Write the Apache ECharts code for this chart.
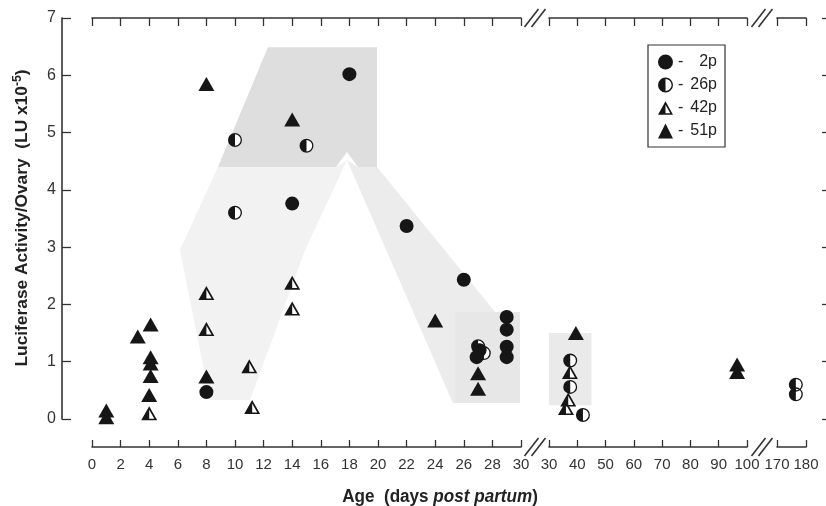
<!DOCTYPE html>
<html><head><meta charset="utf-8">
<script src="https://cdn.jsdelivr.net/npm/echarts@6/dist/echarts.min.js"></script>
<style>html,body{margin:0;padding:0;background:#fff}#c{width:826px;height:506px}</style>
</head><body><div id="c"></div>
<script>
// ---- data (day post partum, luciferase activity x1e5) ----
const p2  = [[8,0.47],[14,3.76],[18,6.02],[22,3.37],[26,2.43],[26.9,1.08],[27.1,1.2],[29,1.78],[29,1.56],[29,1.26],[29,1.08]];
const p26 = [[10,4.87],[10,3.6],[15,4.77],[27,1.27],[27.4,1.15],[37.5,1.02],[37.5,0.56],[42,0.07],[176.5,0.6],[176.5,0.43]];
const p42 = [[4,0.1],[8,2.2],[8,1.57],[11,0.92],[11.2,0.21],[14,2.38],[14,1.93],[37.4,0.82],[36.8,0.34],[36,0.19]];
const p51 = [[1,0.15],[1,0.03],[3.2,1.44],[4.1,1.65],[4.1,1.08],[4.1,0.97],[4.1,0.75],[4,0.42],[8,0.74],[8,5.85],[14,5.23],[24,1.72],[27,0.8],[27,0.53],[39.5,1.5],[96.5,0.95],[96.5,0.82]];
const groupNames = ['2p','26p','42p','51p'];
// axis segments: [min, max, interval]
const xSegments = [[0,30,2],[30,100,10],[170,180,10]];
const yRange = [0,7,1];
// background shading (day, value) vertices
const shadeLeftLeg = [[8.81,4.40],[6.15,2.95],[8.25,0.33],[11.05,0.33],[14.9,2.95],[17.83,4.52],[17.06,4.40]];
const shadeRightLeg = [[17.83,4.52],[25.24,0.28],[29.93,0.28],[29.93,1.87],[28.18,1.87],[19.93,4.40],[18.6,4.40]];
const shadePeak = [[12.3,6.49],[19.93,6.49],[19.93,4.40],[18.6,4.40],[17.83,4.66],[17.06,4.40],[8.81,4.40]];
const shadeRect1 = [[25.4,1.87],[29.93,1.87],[29.93,0.28],[25.4,0.28]];
const shadeRect2 = [[30,1.5],[45,1.5],[45,0.24],[30,0.24]];

const FONT = "'Liberation Sans',Arial,sans-serif";
const INK = '#161616', AX = '#333';
const G = [{left:92,width:429},{left:549,width:198},{left:777,width:29}];
const GT = 18, GH = 401, XOFF = 28;

const HALF_CIRCLE = 'path://M10 0 A10 10 0 0 0 0 10 A10 10 0 0 0 10 20 A10 10 0 0 0 20 10 A10 10 0 0 0 10 0 Z M10 1.9 A8.1 8.1 0 0 1 18.1 10 A8.1 8.1 0 0 1 10 18.1 Z';
const HALF_TRI = 'path://M10 0 L0 18 L20 18 Z M10 4.5 L16.4 16 L10 16 Z';

const segOf = d => d <= 30 ? 0 : (d <= 100 ? 1 : 2);
function split(arr){ const o=[[],[],[]]; arr.forEach(p=>o[segOf(p[0])].push(p)); return o; }

const groups = [
  {name:'2p', data:p2, symbol:'circle', size:14},
  {name:'26p', data:p26, symbol:HALF_CIRCLE, size:14, bg:'circle'},
  {name:'42p', data:p42, symbol:HALF_TRI, size:[16,14], bg:'triangle'},
  {name:'51p', data:p51, symbol:'triangle', size:[16,14]}
];

const series = [];
function shade(pts, seg, color, z){
  series.push({type:'custom', xAxisIndex:seg, yAxisIndex:seg, silent:true, z:z, data:[pts[0]],
    renderItem:(params, api)=>({type:'polygon', shape:{points:pts.map(p=>api.coord(p))}, style:{fill:color}})});
}
shade(shadeLeftLeg,0,'#f2f2f2',1);
shade(shadeRightLeg,0,'#ececec',1);
shade(shadeRect1,0,'#e7e7e7',1);
shade(shadePeak,0,'#dedede',1);
shade(shadeRect2,1,'#eaeaea',1);

groups.forEach(g=>{
  split(g.data).forEach((d,seg)=>{
    if(!d.length) return;
    if(g.bg){
      series.push({type:'scatter', name:g.name+' bg', xAxisIndex:seg, yAxisIndex:seg, data:d, symbol:g.bg,
        symbolSize:g.size, itemStyle:{color:'#fff', opacity:1}, silent:true, z:2, emphasis:{disabled:true}});
    }
    series.push({type:'scatter', name:g.name, xAxisIndex:seg, yAxisIndex:seg, data:d, symbol:g.symbol,
      symbolSize:g.size, itemStyle:{color:INK, opacity:1}, silent:true, z:3, emphasis:{disabled:true}});
  });
});

const xAxis = [], yAxis = [];
xSegments.forEach((s,i)=>{
  xAxis.push({gridIndex:i, type:'value', min:s[0], max:s[1], interval:s[2], position:'bottom', offset:XOFF,
    axisLine:{show:true, onZero:false, lineStyle:{color:AX, width:1.6}},
    axisTick:{show:true, inside:true, length:7, lineStyle:{color:AX, width:1.3}},
    axisLabel:{show:true, fontFamily:FONT, fontSize:15, color:AX, margin:10, hideOverlap:false, showMinLabel:true, showMaxLabel:true},
    splitLine:{show:false}});
});
xSegments.forEach((s,i)=>{
  xAxis.push({gridIndex:i, type:'value', min:s[0], max:s[1], interval:s[2], position:'top', offset:0,
    axisLine:{show:true, onZero:false, lineStyle:{color:AX, width:1.6}},
    axisTick:{show:true, inside:true, length:8, lineStyle:{color:AX, width:1.3}},
    axisLabel:{show:false}, splitLine:{show:false}});
});
yAxis.push({gridIndex:0, type:'value', min:yRange[0], max:yRange[1], interval:yRange[2], position:'left', offset:30,
  axisLine:{show:true, onZero:false, lineStyle:{color:AX, width:1.6}},
  axisTick:{show:true, inside:true, length:9, lineStyle:{color:AX, width:1.3}},
  axisLabel:{fontFamily:FONT, fontSize:16, color:AX, margin:6},
  splitLine:{show:false}});
yAxis.push({gridIndex:1, type:'value', min:yRange[0], max:yRange[1], interval:yRange[2], show:false});
yAxis.push({gridIndex:2, type:'value', min:yRange[0], max:yRange[1], interval:yRange[2], position:'right', offset:22,
  axisLine:{show:true, onZero:false, lineStyle:{color:AX, width:1.6}},
  axisTick:{show:true, inside:true, length:6, lineStyle:{color:AX, width:1.3}},
  axisLabel:{show:false}, splitLine:{show:false}});

// break marks "//" between segments on both x axes
const graphic = [];
const bottomY = GT+GH+XOFF;
[(G[0].left+G[0].width+G[1].left)/2, (G[1].left+G[1].width+G[2].left)/2].forEach(cx=>{
  [bottomY, GT].forEach(cy=>{
    [-3.5,3.5].forEach(dx=>{
      graphic.push({type:'line', shape:{x1:cx+dx-7, y1:cy+9, x2:cx+dx+7, y2:cy-9}, style:{stroke:AX, lineWidth:1.6}, silent:true});
    });
  });
});
graphic.push({type:'text', x:440, y:497, scaleX:0.95, silent:true, style:{
  text:'{a|Age  (days }{b|post partum}{a|)}', align:'center', verticalAlign:'middle',
  rich:{a:{fontFamily:FONT, fontWeight:'bold', fontSize:18, fill:'#222'},
        b:{fontFamily:FONT, fontWeight:'bold', fontStyle:'italic', fontSize:18, fill:'#222'}}}});
graphic.push({type:'text', x:22, y:218, rotation:Math.PI/2, scaleX:1.02, silent:true, style:{
  text:'{a|Luciferase Activity/Ovary  (LU x10}{s|-5}{a|)}', align:'center', verticalAlign:'middle',
  rich:{a:{fontFamily:FONT, fontWeight:'bold', fontSize:17, fill:'#222', lineHeight:20},
        s:{fontFamily:FONT, fontWeight:'bold', fontSize:12, fill:'#222', lineHeight:12, verticalAlign:'top'}}}});

const chart = echarts.init(document.getElementById('c'), null, {renderer:'canvas'});
chart.setOption({
  animation:false,
  backgroundColor:'#ffffff',
  grid: G.map(g=>({left:g.left, width:g.width, top:GT, height:GH, containLabel:false, outerBoundsMode:'none'})),
  xAxis, yAxis, series, graphic,
  legend:{data:groupNames, orient:'vertical', left:648, top:45, padding:[9,8,8,10], itemWidth:15, itemHeight:15, itemGap:7,
    borderColor:AX, borderWidth:1.2, backgroundColor:'#fff', selectedMode:false,
    formatter: n => '{d|-}{n|' + n + '}',
    textStyle:{fontFamily:FONT, fontSize:16, color:'#222', lineHeight:16,
      rich:{d:{fontFamily:FONT, fontSize:16, width:11, lineHeight:16}, n:{fontFamily:FONT, fontSize:16, width:28, align:'right', lineHeight:16}}}}
});
</script></body></html>
